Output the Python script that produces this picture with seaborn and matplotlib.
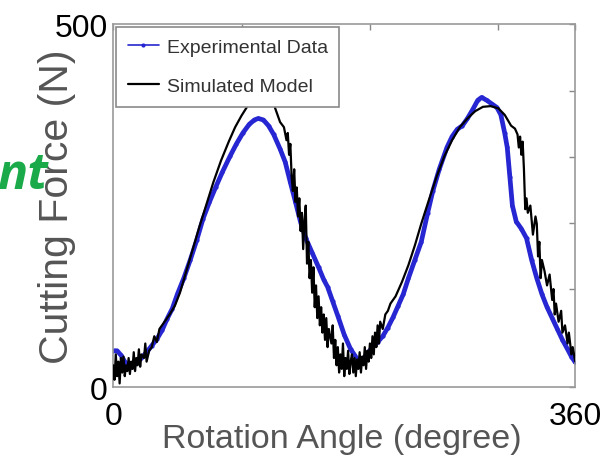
import numpy as np
import pandas as pd
import matplotlib
matplotlib.use("Agg")
import matplotlib.pyplot as plt
import seaborn as sns

# experimental data (blue, measured)
exp_angle = [0, 3, 6, 9, 12, 15, 18, 22, 26, 30, 34, 38, 42, 46, 50, 55, 60, 65, 70, 75,
             80, 85, 91, 96, 101, 106, 110, 113, 117, 121, 125, 130, 134, 138, 142, 146,
             150, 155, 160, 164, 167, 171, 175, 180, 185, 190, 194, 198, 202, 206, 210,
             214, 218, 222, 226, 230, 235, 240, 245, 249, 254, 260, 264, 268, 272, 276,
             280, 284, 287, 291, 295, 299, 302, 305, 307, 309, 311, 314, 318, 322, 326,
             330, 334, 338, 342, 346, 350, 354, 357, 360]
exp_force = [50, 50, 44, 35, 28, 28, 33, 40, 48, 57, 66, 78, 94, 108, 128, 150, 175, 202, 232, 255,
             276, 296, 318, 335, 350, 362, 368, 370, 368, 360, 348, 328, 310, 282, 255, 227,
             205, 185, 165, 148, 138, 118, 98, 72, 52, 39, 37, 46, 55, 62, 70,
             82, 96, 112, 128, 150, 175, 200, 240, 270, 300, 330, 345, 355, 360, 370,
             382, 395, 399, 395, 390, 385, 375, 350, 330, 290, 250, 228, 218, 205, 175,
             150, 128, 110, 95, 80, 65, 52, 42, 34]

# simulated model (black)
sim_angle = [0, 1, 2, 3, 4, 5, 6, 7, 8, 9, 10, 11, 12, 13, 14, 15, 16, 17, 18, 19, 20, 21, 22,
             24, 25, 26, 28, 30, 32, 34, 36, 38, 40, 44, 48, 52, 57, 62, 67, 72, 78, 84, 90,
             95, 100, 105, 110, 115, 120, 125, 130, 133, 135, 136, 137, 138, 139, 140, 141,
             142, 143, 144, 145, 146, 147, 148, 149, 150, 151, 152, 153, 154, 155, 156, 157,
             158, 159, 160, 161, 162, 163, 164, 165, 166, 167, 168, 170, 171, 172, 173, 174,
             175, 176, 177, 178, 179, 180, 181, 182, 183, 184, 185, 186, 187, 188, 189, 190,
             191, 192, 193, 194, 195, 196, 197, 198, 199, 200, 201, 202, 203, 204, 205, 206,
             207, 208, 210, 212, 214, 216, 220, 225, 230, 235, 240, 246, 252, 258, 264, 270,
             276, 282, 288, 294, 300, 305, 310, 313, 315, 316, 317, 318, 319, 320, 321, 322,
             323, 325, 327, 329, 330, 331, 332, 333, 334, 336, 338, 340, 342, 343, 344, 345,
             347, 349, 350, 352, 354, 355, 357, 358, 360]
sim_force = [30, 10, 45, 15, 35, 5, 40, 20, 42, 15, 30, 22, 40, 18, 35, 25, 48, 22, 40, 30, 52, 28, 45,
             40, 60, 35, 50, 55, 70, 62, 80, 85, 90, 100, 112, 130, 160, 190, 220, 248, 282, 312, 338,
             358, 374, 388, 400, 405, 402, 390, 365, 358, 340, 350, 320, 335, 290, 270, 300,
             255, 275, 235, 260, 215, 240, 190, 230, 250, 170, 200, 150, 175, 130, 165, 110,
             140, 95, 125, 85, 110, 75, 100, 65, 95, 55, 80, 60, 85, 40, 65, 30,
             55, 20, 45, 25, 60, 15, 40, 25, 50, 18, 35, 45, 20, 40, 15, 38,
             25, 48, 20, 42, 30, 55, 25, 50, 35, 60, 40, 70, 45, 75, 55, 85,
             60, 90, 80, 100, 105, 115, 125, 145, 168, 195, 225, 258, 290, 318, 340, 358,
             370, 380, 386, 387, 384, 375, 360, 356, 348, 330, 345, 320, 338, 300, 245, 260,
             240, 250, 210, 235, 225, 180, 200, 150, 175, 160, 140, 155, 120, 135, 100, 115,
             90, 105, 75, 85, 60, 75, 45, 55, 35]

exp_df = pd.DataFrame({"angle": exp_angle, "force": exp_force})
sim_df = pd.DataFrame({"angle": sim_angle, "force": sim_force})

sns.set_style("white")
plt.rcParams['font.family'] = ['Liberation Sans', 'DejaVu Sans']

fig = plt.figure(figsize=(6.12, 4.56), dpi=100)
ax = fig.add_axes([0.185, 0.149, 0.755, 0.796])

sns.lineplot(data=exp_df, x="angle", y="force", ax=ax, color="#2626d2", lw=3.4,
             marker=".", markersize=6, markeredgewidth=0, sort=False,
             label="Experimental Data", zorder=2)
sns.lineplot(data=sim_df, x="angle", y="force", ax=ax, color="black", lw=1.6,
             sort=False, label="Simulated Model", zorder=3)

ax.set_xlim(0, 360)
ax.set_ylim(0, 500)
ax.set_xticks([0, 100, 200, 300, 360])
ax.set_xticklabels(["0", "", "", "", "360"])
ax.set_yticks([0, 44, 135, 226, 317, 408, 500])
ax.set_yticklabels(["0", "", "", "", "", "", "500"])
ax.tick_params(direction="in", length=4, width=1, color="#888888",
               top=True, right=True, labelsize=23, labelcolor="black", pad=4)
ax.tick_params(axis="x", pad=10)
for s in ax.spines.values():
    s.set_color("#9a9a9a")
    s.set_linewidth(1.2)

ax.set_xlabel("Rotation Angle (degree)", fontsize=24.5, color="#555555")
ax.set_ylabel("Cutting Force (N)", fontsize=29.5, color="#555555")
ax.xaxis.set_label_coords(0.495, -0.098)
ax.yaxis.set_label_coords(-0.08, 0.5)

leg = ax.legend(loc="upper left", fontsize=14, frameon=True, fancybox=False,
                framealpha=1, edgecolor="#8a8a8a", borderaxespad=0.15,
                handlelength=1.6, labelspacing=1.1, borderpad=0.6, handletextpad=0.4)
leg.get_frame().set_linewidth(1.2)
leg.set_zorder(5)
leg.legend_handles[0].set_linewidth(1.2)
for t in leg.get_texts():
    t.set_color("#333333")

fig.text(-0.005, 0.585, "nt", fontsize=36, color="#1aaa4a", fontweight="bold",
         fontstyle="italic", ha="left", va="baseline", family=["Open Sans", "DejaVu Sans"])

fig.savefig("out.png", dpi=100)
